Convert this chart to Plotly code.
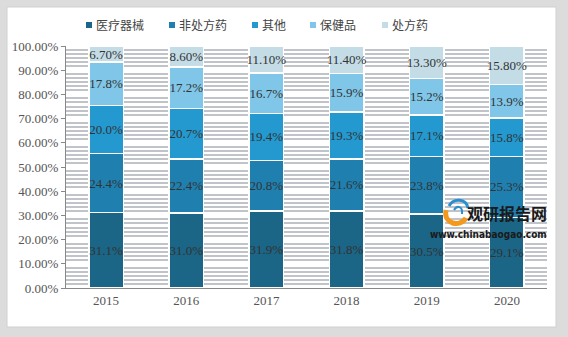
import plotly.graph_objects as go

years = ["2015", "2016", "2017", "2018", "2019", "2020"]
series_names = ["医疗器械", "非处方药", "其他", "保健品", "处方药"]
medical_devices = [31.1, 31.0, 31.9, 31.8, 30.5, 29.1]
otc_drugs = [24.4, 22.4, 20.8, 21.6, 23.8, 25.3]
others = [20.0, 20.7, 19.4, 19.3, 17.1, 15.8]
health_products = [17.8, 17.2, 16.7, 15.9, 15.2, 13.9]
rx_drugs = [6.70, 8.60, 11.10, 11.40, 13.30, 15.80]

values = [medical_devices, otc_drugs, others, health_products, rx_drugs]
colors = ["#1b6586", "#1f80b0", "#2399d0", "#80c6e8", "#c3dce6"]
templates = ["%{y:.1f}%", "%{y:.1f}%", "%{y:.1f}%", "%{y:.1f}%", "%{y:.2f}%"]

W, H = 568, 337
ML, MR, MT, MB = 66, 21, 46, 49
PW, PH = W - ML - MR, H - MT - MB


def px(x):
    return (x - ML) / PW


def py(y):
    return (H - MB - y) / PH


fig = go.Figure()
for name, vals, col, tpl in zip(series_names, values, colors, templates):
    fig.add_trace(go.Bar(
        x=years, y=vals, name=name,
        marker=dict(color=col, line=dict(color="white", width=1.5)),
        texttemplate=tpl, textposition="inside", insidetextanchor="middle",
        textangle=0, constraintext="none",
        textfont=dict(family="Liberation Serif", size=13, color="#333333"),
        hoverinfo="skip", showlegend=False,
    ))

shapes = [dict(type="rect", xref="paper", yref="paper",
               x0=px(7), x1=px(556), y0=py(327), y1=py(7),
               fillcolor="white", line=dict(color="#d0d0d0", width=1), layer="below")]

# logo approximation
shapes.append(dict(type="path", xref="paper", yref="paper", layer="above",
                   path=f"M {px(446)} {py(210)} C {px(443)} {py(224)}, {px(460)} {py(228)}, {px(466)} {py(218)}",
                   line=dict(color="#f39a1e", width=5)))
shapes.append(dict(type="path", xref="paper", yref="paper", layer="above",
                   path=f"M {px(449)} {py(206)} C {px(453)} {py(198)}, {px(466)} {py(198)}, {px(468)} {py(208)}",
                   line=dict(color="#2a8fd0", width=3)))
shapes.append(dict(type="path", xref="paper", yref="paper", layer="above",
                   path=f"M {px(454)} {py(210)} C {px(457)} {py(205)}, {px(463)} {py(206)}, {px(462)} {py(214)}",
                   line=dict(color="#2a8fd0", width=2)))

# legend squares
legend_x = [86, 169, 252, 310, 382]
for col, lx in zip(colors, legend_x):
    shapes.append(dict(type="rect", xref="paper", yref="paper",
                       x0=px(lx), x1=px(lx + 6), y0=py(28), y1=py(22),
                       fillcolor=col, line=dict(width=0)))

fig.update_layout(
    barmode="stack",
    bargap=0.57,
    width=W, height=H,
    margin=dict(l=ML, r=MR, t=MT, b=MB),
    paper_bgcolor="#dcdcdc",
    plot_bgcolor="#eef3f8",
    showlegend=False,
    shapes=shapes,
)

fig.update_yaxes(
    range=[0, 100], dtick=10, tickformat=".2f", ticksuffix="%",
    showgrid=False, showline=True, linecolor="#888888", linewidth=1,
    ticks="outside", ticklen=4, tickcolor="#888888",
    tickfont=dict(family="Liberation Serif", size=13, color="#555555"),
    minor=dict(dtick=100/60, showgrid=True, gridcolor="#c0c3c7", gridwidth=2),
    zeroline=False,
)
fig.update_xaxes(
    showline=True, linecolor="#888888", linewidth=1,
    tickfont=dict(family="Liberation Serif", size=13, color="#555555"),
    ticks="",
)

for name, lx in zip(series_names, legend_x):
    fig.add_annotation(xref="paper", yref="paper", x=px(lx + 8), y=py(25),
                       xanchor="left", yanchor="middle", showarrow=False,
                       text=name,
                       font=dict(family="Noto Sans CJK SC", size=12, color="#444444"))

fig.add_annotation(xref="paper", yref="paper", x=px(549), y=py(213), xanchor="right", yanchor="middle",
                   text="<b>观研报告网</b>", showarrow=False,
                   font=dict(family="Noto Sans CJK SC", size=16, color="#1a1a1a"))
fig.add_annotation(xref="paper", yref="paper", x=px(549), y=py(234), xanchor="right", yanchor="middle",
                   text="<b>www.chinabaogao.com</b>", showarrow=False,
                   font=dict(family="DejaVu Sans Condensed", size=10, color="#1a1a1a"))

fig.write_html("out.html")
